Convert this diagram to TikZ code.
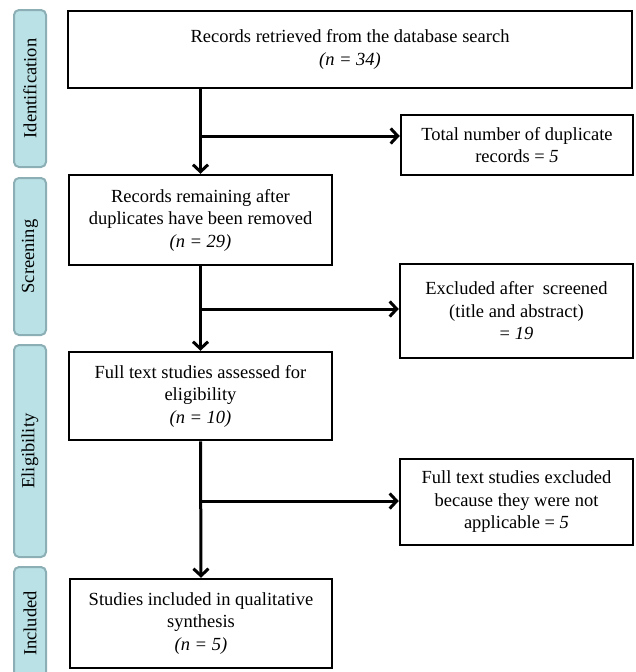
\documentclass[tikz,border=0pt]{standalone}
\usepackage{fontspec}
\setmainfont{Liberation Serif}
\usetikzlibrary{arrows.meta}

\definecolor{barfill}{HTML}{B9E1E6}
\definecolor{barline}{HTML}{8CAFB5}

\begin{document}
\begin{tikzpicture}[x=1pt, y=-1pt,
        box/.style={draw, line width=2.5pt, align=center, inner sep=0pt,
            font=\fontsize{18.5}{22.5}\selectfont},
        phase/.style={draw=barline, fill=barfill, line width=2pt, rounded corners=5pt,
            rotate=90, minimum height=32pt, inner sep=0pt,
            font=\fontsize{18.5}{22.5}\selectfont},
        flow/.style={line width=3pt, -{Straight Barb[length=7pt, width=15pt]}}]
            \useasboundingbox (0, 0) rectangle (635, 672);
            \clip (0, 0) rectangle (635, 672);

            \node[phase, minimum width=157pt] (ident) at (30, 88.5) {Identification};
            \node[phase, minimum width=157pt] (screen) at (30, 256.5) {Screening};
            \node[phase, minimum width=212pt] (elig) at (30, 451) {Eligibility};
            \node[phase, minimum width=113pt] (incl) at (30, 623.5) {Included};

            \node[box, minimum width=564pt, minimum height=77pt] (rec) at (350, 49.5)
                {Records retrieved from the database search\\ \textit{(n = 34)}};
            \node[box, minimum width=232pt, minimum height=60pt] (dup) at (517, 145)
                {Total number of duplicate\\ records = \textit{5}};
            \node[box, minimum width=263pt, minimum height=90pt] (rem) at (200.5, 220)
                {Records remaining after\\ duplicates have been removed\\ \textit{(n = 29)}};
            \node[box, minimum width=233pt, minimum height=94pt] (scr) at (516.5, 311)
                {Excluded after\ \ screened\\ (title and abstract)\\ = \textit{19}};
            \node[box, minimum width=263pt, minimum height=88pt] (full) at (200.5, 396)
                {Full text studies assessed for\\ eligibility\\ \textit{(n = 10)}};
            \node[box, minimum width=233pt, minimum height=86pt] (notapp) at (516.5, 502)
                {Full text studies excluded\\ because they were not\\ applicable = \textit{5}};
            \node[box, minimum width=262pt, minimum height=89pt] (incs) at (201, 623.5)
                {Studies included in qualitative\\ synthesis\\ \textit{(n = 5)}};

            \coordinate (b1) at (202, 136);
            \coordinate (b2) at (202, 309);
            \coordinate (b3) at (202, 501);

            \draw[flow] (rec.south -| rem.north) -- (rem.north);
            \draw[flow] (rem.south) -- (full.north);
            \draw[flow] (full.south) -- (incs.north);
            \draw[flow] (b1) -- (b1 -| dup.west);
            \draw[flow] (b2) -- (b2 -| scr.west);
            \draw[flow] (b3) -- (b3 -| notapp.west);
\end{tikzpicture}
\end{document}
